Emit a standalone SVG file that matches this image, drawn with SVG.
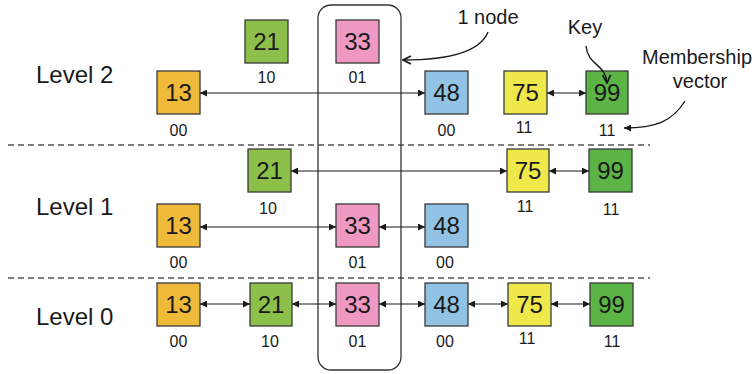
<svg xmlns="http://www.w3.org/2000/svg" width="756" height="374" viewBox="0 0 756 374">
<style>
.bx{stroke:#3a3a3a;stroke-width:1.3}
.k{font-family:"Liberation Sans",Arial,sans-serif;font-size:24px;fill:#1a1a1a;text-anchor:middle}
.v{font-family:"Liberation Sans",Arial,sans-serif;font-size:16px;fill:#1a1a1a;text-anchor:middle}
.lv{font-family:"Liberation Sans",Arial,sans-serif;font-size:24px;fill:#1a1a1a}
.an{font-family:"Liberation Sans",Arial,sans-serif;font-size:20px;fill:#1a1a1a;text-anchor:middle}
.c13{fill:#EFB93A}.c21{fill:#8DC04A}.c33{fill:#EE98C2}.c48{fill:#93C3E4}.c75{fill:#EEE84A}.c99{fill:#5DB446}
.ln{stroke:#1a1a1a;stroke-width:1.2;fill:none;marker-start:url(#ah);marker-end:url(#ah)}
.cv{stroke:#1a1a1a;stroke-width:1.4;fill:none}
.ds{stroke:#555;stroke-width:1.3;stroke-dasharray:6 4}
</style>
<defs>
<marker id="ah" viewBox="0 0 10 10" refX="10" refY="5" markerWidth="7" markerHeight="7" markerUnits="userSpaceOnUse" orient="auto-start-reverse">
<path d="M0,0 L10,5 L0,10 Z" fill="#1a1a1a"/>
</marker>
<marker id="oh" viewBox="0 0 10 10" refX="9" refY="5" markerWidth="10" markerHeight="10" markerUnits="userSpaceOnUse" orient="auto">
<path d="M1,1 L9,5 L1,9" fill="none" stroke="#1a1a1a" stroke-width="1.8"/>
</marker>
</defs>
<rect width="756" height="374" fill="#ffffff"/>
<g id="separators">
<line class="ds" x1="8" y1="145" x2="650" y2="145"/>
<line class="ds" x1="8" y1="278" x2="650" y2="278"/>
</g>
<g id="levels">
<text class="lv" x="36" y="83">Level 2</text>
<text class="lv" x="36" y="215">Level 1</text>
<text class="lv" x="36" y="325">Level 0</text>
</g>
<g id="node-outline">
<rect x="318" y="5" width="83" height="365" rx="13" fill="none" stroke="#333" stroke-width="1.3"/>
</g>
<g id="annotations">
<text class="an" x="488" y="24">1 node</text>
<text class="an" x="585" y="34">Key</text>
<text class="an" x="697" y="64">Membership</text>
<text class="an" x="700" y="88">vector</text>
</g>
<g id="L2-21"><rect class="bx c21" x="245" y="20" width="43" height="43"/><text class="k" x="266.5" y="50">21</text><text class="v" x="266.5" y="83">10</text></g>
<g id="L2-33"><rect class="bx c33" x="336" y="20" width="43" height="43"/><text class="k" x="357.5" y="50">33</text><text class="v" x="357.5" y="83">01</text></g>
<g id="L2-13"><rect class="bx c13" x="157" y="71" width="43" height="43"/><text class="k" x="178.5" y="101">13</text><text class="v" x="178.5" y="136">00</text></g>
<g id="L2-48"><rect class="bx c48" x="425" y="71" width="43" height="43"/><text class="k" x="446.5" y="101">48</text><text class="v" x="446.5" y="136">00</text></g>
<g id="L2-75"><rect class="bx c75" x="504" y="71" width="43" height="43"/><text class="k" x="525.5" y="101">75</text><text class="v" x="524" y="133">11</text></g>
<g id="L2-99"><rect class="bx c99" x="586" y="71" width="42" height="43"/><text class="k" x="607" y="101">99</text><text class="v" x="607" y="136">11</text></g>
<g id="L1-21"><rect class="bx c21" x="248" y="149" width="43" height="43"/><text class="k" x="269.5" y="179">21</text><text class="v" x="268" y="214">10</text></g>
<g id="L1-75"><rect class="bx c75" x="507" y="149" width="42" height="43"/><text class="k" x="528" y="179">75</text><text class="v" x="525" y="212">11</text></g>
<g id="L1-99"><rect class="bx c99" x="589" y="149" width="43" height="43"/><text class="k" x="610.5" y="179">99</text><text class="v" x="611" y="215">11</text></g>
<g id="L1-13"><rect class="bx c13" x="157" y="204" width="43" height="43"/><text class="k" x="178.5" y="234">13</text><text class="v" x="178.5" y="268">00</text></g>
<g id="L1-33"><rect class="bx c33" x="336" y="204" width="43" height="43"/><text class="k" x="357.5" y="234">33</text><text class="v" x="357.5" y="268">01</text></g>
<g id="L1-48"><rect class="bx c48" x="425" y="204" width="43" height="43"/><text class="k" x="446.5" y="234">48</text><text class="v" x="445" y="268">00</text></g>
<g id="L0-13"><rect class="bx c13" x="157" y="283" width="43" height="43"/><text class="k" x="178.5" y="313">13</text><text class="v" x="178.5" y="347">00</text></g>
<g id="L0-21"><rect class="bx c21" x="250" y="283" width="42" height="43"/><text class="k" x="271" y="313">21</text><text class="v" x="270" y="347">10</text></g>
<g id="L0-33"><rect class="bx c33" x="336" y="283" width="43" height="43"/><text class="k" x="357.5" y="313">33</text><text class="v" x="357.5" y="347">01</text></g>
<g id="L0-48"><rect class="bx c48" x="425" y="283" width="43" height="43"/><text class="k" x="446.5" y="313">48</text><text class="v" x="445" y="347">00</text></g>
<g id="L0-75"><rect class="bx c75" x="508" y="283" width="43" height="43"/><text class="k" x="529.5" y="313">75</text><text class="v" x="527" y="344">11</text></g>
<g id="L0-99"><rect class="bx c99" x="590" y="283" width="43" height="43"/><text class="k" x="611.5" y="313">99</text><text class="v" x="612" y="347">11</text></g>
<g id="connectors">
<line class="ln" x1="200" y1="93" x2="425" y2="93"/>
<line class="ln" x1="547" y1="93" x2="586" y2="93"/>
<line class="ln" x1="291" y1="171" x2="507" y2="171"/>
<line class="ln" x1="549" y1="171" x2="589" y2="171"/>
<line class="ln" x1="200" y1="227" x2="336" y2="227"/>
<line class="ln" x1="379" y1="227" x2="425" y2="227"/>
<line class="ln" x1="200" y1="304" x2="250" y2="304"/>
<line class="ln" x1="292" y1="304" x2="336" y2="304"/>
<line class="ln" x1="379" y1="304" x2="425" y2="304"/>
<line class="ln" x1="468" y1="304" x2="508" y2="304"/>
<line class="ln" x1="551" y1="304" x2="590" y2="304"/>
<path class="cv" d="M488,32 C480,52 450,60 403,60" marker-end="url(#oh)"/>
<path class="cv" d="M586,46 C588,66 606,64 607,83" marker-end="url(#oh)"/>
<path class="cv" d="M685,101 C672,122 655,128 624,128" marker-end="url(#ah)"/>
</g>
</svg>
